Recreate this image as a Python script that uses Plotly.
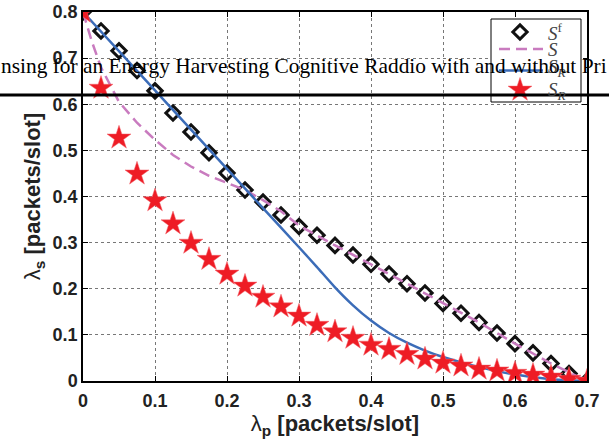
import plotly.graph_objects as go

# Arrival rate of the primary user (x axis) and the four throughput curves
lambda_p = [0.0, 0.025, 0.05, 0.075, 0.1, 0.125, 0.15, 0.175, 0.2, 0.225, 0.25,
            0.275, 0.3, 0.325, 0.35, 0.375, 0.4, 0.425, 0.45, 0.475, 0.5, 0.525,
            0.55, 0.575, 0.6, 0.625, 0.65, 0.675, 0.7]

s_f = [0.8, 0.759, 0.716, 0.673, 0.629, 0.581, 0.540, 0.495, 0.451, 0.414, 0.388,
       0.360, 0.335, 0.316, 0.294, 0.273, 0.253, 0.232, 0.211, 0.191, 0.168, 0.147,
       0.127, 0.104, 0.081, 0.061, 0.038, 0.016, 0.0]

s_r_stars = [0.8, 0.635, 0.527, 0.449, 0.391, 0.341, 0.299, 0.264, 0.232, 0.206,
             0.182, 0.161, 0.141, 0.121, 0.107, 0.093, 0.078, 0.069, 0.058, 0.048,
             0.039, 0.033, 0.026, 0.022, 0.017, 0.013, 0.009, 0.004, 0.0]

# Dashed curve S
s_x = [0.0, 0.0125, 0.025, 0.05, 0.075, 0.1, 0.125, 0.15, 0.175, 0.2, 0.225, 0.25,
       0.275, 0.3, 0.35, 0.4, 0.45, 0.5, 0.55, 0.6, 0.65, 0.7]
s_y = [0.8, 0.735, 0.68, 0.605, 0.56, 0.523, 0.49, 0.465, 0.445, 0.429, 0.414, 0.392,
       0.368, 0.337, 0.294, 0.253, 0.211, 0.168, 0.127, 0.081, 0.038, 0.0]

# Solid curve S_R
r_x = [0.0, 0.1, 0.2, 0.25, 0.3, 0.325, 0.35, 0.375, 0.4, 0.425, 0.45, 0.475,
       0.5, 0.55, 0.6, 0.65, 0.7]
r_y = [0.8, 0.63, 0.46, 0.375, 0.29, 0.247, 0.203, 0.164, 0.131, 0.104, 0.083,
       0.066, 0.052, 0.030, 0.014, 0.004, 0.0]

x_ticks = [0, 0.1, 0.2, 0.3, 0.4, 0.5, 0.6, 0.7]
x_tick_text = ["0", "0.1", "0.2", "0.3", "0.4", "0.5", "0.6", "0.7"]
y_ticks = [0, 0.1, 0.2, 0.3, 0.4, 0.5, 0.6, 0.7, 0.8]
y_tick_text = ["0", "0.1", "0.2", "0.3", "0.4", "0.5", "0.6", "0.7", "0.8"]

legend_labels = ["<i>S</i><sup>f</sup>", "<i>S</i>",
                 "<i>S</i><sub><i>R</i></sub>", "<i>S</i><sub><i>R</i></sub>"]

header_text = "nsing for an Energy Harvesting Cognitive Raddio with and without Pri"

W, H = 609, 443
L, R, T, B = 83, 22, 12, 62
pw, ph = W - L - R, H - T - B

C_DIAMOND = "#111111"
C_DASH = "#C97BBF"
C_SOLID = "#3B6CB8"
C_STAR = "#EE1C25"
DASH = "11px,6px"


def px_x(p):
    return (p - L) / pw


def px_y(p):
    return (H - B - p) / ph


diamond_marker = dict(symbol="diamond-open", size=11, color=C_DIAMOND,
                      line=dict(width=3, color=C_DIAMOND))
star_marker = dict(symbol="star", size=18, color=C_STAR,
                   line=dict(width=0.5, color="#F26068"))

fig = go.Figure()

fig.add_trace(go.Scatter(x=lambda_p, y=s_f, mode="markers",
                         marker=diamond_marker))
fig.add_trace(go.Scatter(x=s_x, y=s_y, mode="lines",
                         line=dict(color=C_DASH, width=2.5, dash=DASH)))
fig.add_trace(go.Scatter(x=r_x, y=r_y, mode="lines",
                         line=dict(color=C_SOLID, width=2.5, shape="spline",
                                   smoothing=0.5)))
fig.add_trace(go.Scatter(x=lambda_p, y=s_r_stars, mode="markers",
                         marker=star_marker))

# Legend drawn in a small pixel-scaled inset axis in the upper right
LB = dict(x0=491, x1=581, y0=19, y1=102)
pad = 2
lx = [LB["x0"], LB["x1"], LB["x1"], LB["x0"], LB["x0"]]
ly = [LB["y0"], LB["y0"], LB["y1"], LB["y1"], LB["y0"]]
fig.add_trace(go.Scatter(x=lx, y=ly, mode="lines", fill="toself",
                         fillcolor="white", line=dict(color="black", width=1),
                         xaxis="x2", yaxis="y2", hoverinfo="skip"))
fig.add_trace(go.Scatter(x=[520], y=[32], mode="markers", marker=diamond_marker,
                         xaxis="x2", yaxis="y2"))
fig.add_trace(go.Scatter(x=[499, 543], y=[49, 49], mode="lines",
                         line=dict(color=C_DASH, width=2.5, dash=DASH),
                         xaxis="x2", yaxis="y2"))
fig.add_trace(go.Scatter(x=[499, 543], y=[70.5, 70.5], mode="lines",
                         line=dict(color=C_SOLID, width=2.5),
                         xaxis="x2", yaxis="y2"))
fig.add_trace(go.Scatter(x=[520], y=[90], mode="markers", marker=star_marker,
                         xaxis="x2", yaxis="y2"))

label_y = [32, 50, 68, 91]
for lab, yy in zip(legend_labels, label_y):
    fig.add_annotation(xref="x2", yref="y2", x=546, y=yy, xanchor="left",
                       yanchor="middle", showarrow=False, text=lab,
                       font=dict(family="Liberation Serif, serif", size=19,
                                 color="#444444"))

axis_common = dict(
    showline=True, linecolor="black", linewidth=1.5, mirror="ticks",
    ticks="inside", ticklen=5, tickcolor="black", tickwidth=1,
    showgrid=True, gridcolor="#777777", griddash="dot", gridwidth=1,
    zeroline=False,
    tickfont=dict(family="Liberation Sans, Arial, sans-serif", size=18,
                  color="#222222", weight="bold"),
)
title_font = dict(family="Liberation Sans, Arial, sans-serif", size=22,
                  color="#222222")

fig.update_layout(
    width=W, height=H,
    margin=dict(l=L, r=R, t=T, b=B, autoexpand=False),
    paper_bgcolor="white", plot_bgcolor="white",
    showlegend=False,
    xaxis=dict(
        range=[0, 0.7], tickvals=x_ticks, ticktext=x_tick_text,
        ticklabelstandoff=3,
        title=dict(text="λ<sub><b>p</b></sub><b> [packets/slot]</b>",
                   font=title_font, standoff=0),
        **axis_common,
    ),
    yaxis=dict(
        range=[0, 0.8], tickvals=y_ticks, ticktext=y_tick_text,
        title=dict(text="λ<sub><b>s</b></sub><b> [packets/slot]</b>",
                   font=title_font, standoff=6),
        **axis_common,
    ),
    xaxis2=dict(domain=[px_x(LB["x0"] - pad), px_x(LB["x1"] + pad)],
                range=[LB["x0"] - pad, LB["x1"] + pad], anchor="y2",
                visible=False, fixedrange=True),
    yaxis2=dict(domain=[px_y(LB["y1"] + pad), px_y(LB["y0"] - pad)],
                range=[LB["y1"] + pad, LB["y0"] - pad], anchor="x2",
                visible=False, fixedrange=True),
)

# Running header band that crosses the top of the figure
fig.add_annotation(
    xref="paper", yref="paper", x=px_x(-1), y=px_y(66),
    xanchor="left", yanchor="middle", showarrow=False,
    text=header_text,
    font=dict(family="Liberation Serif, Times New Roman, serif", size=21.4,
              color="black"),
)
fig.add_shape(
    type="line", xref="paper", yref="paper",
    x0=px_x(-5), x1=px_x(W + 5), y0=px_y(95), y1=px_y(95),
    line=dict(color="black", width=3), layer="above",
)

fig.write_html("out.html")
